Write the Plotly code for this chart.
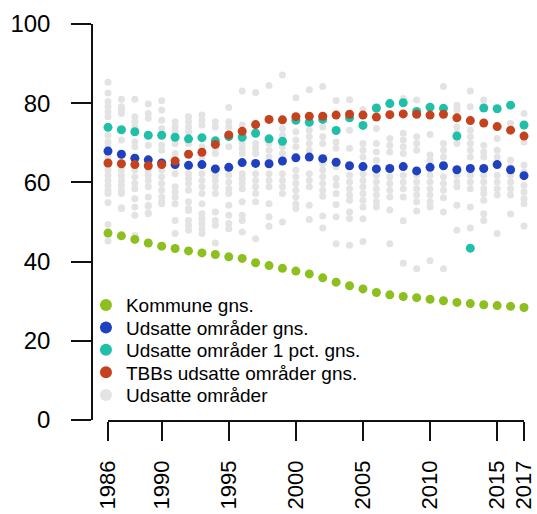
import plotly.graph_objects as go

years = list(range(1986, 2018))

kommune_gns = [47.2, 46.5, 45.6, 44.7, 43.9, 43.3, 42.7, 42.2, 41.8, 41.2, 40.8, 39.7,
               39.0, 38.3, 37.6, 36.9, 35.9, 34.8, 33.9, 33.1, 32.2, 31.6, 31.2, 30.9,
               30.5, 30.1, 29.7, 29.4, 29.1, 28.9, 28.7, 28.4]

udsatte_gns = [67.9, 67.1, 66.1, 65.7, 64.9, 64.5, 64.3, 64.5, 63.4, 63.8, 65.0, 64.8,
               64.7, 65.4, 66.2, 66.4, 66.0, 65.1, 64.2, 64.0, 63.4, 63.5, 64.0, 62.9,
               63.8, 64.2, 63.2, 63.5, 63.5, 64.5, 63.2, 61.7]

udsatte_1pct_gns = [73.9, 73.3, 72.8, 71.9, 71.9, 71.4, 71.0, 71.3, 70.5, 71.6, 71.4, 72.4,
                    71.0, 70.4, 75.7, 75.2, 75.9, 73.1, 76.3, 74.4, 78.8, 79.9, 80.1, 77.9,
                    79.0, 78.7, 71.7, 43.4, 78.8, 78.6, 79.5, 74.5]

tbb_gns = [64.9, 64.7, 64.5, 64.2, 64.5, 65.4, 67.1, 67.6, 69.6, 72.0, 72.9, 74.6,
           75.9, 75.8, 76.6, 76.7, 76.7, 77.0, 77.2, 77.0, 76.5, 77.1, 77.3, 77.2,
           77.0, 77.2, 76.3, 75.6, 75.0, 74.1, 73.2, 71.7]

# Individual areas per year (same order as years)
udsatte_omr = [
    [85.3, 82.6, 80.4, 79.1, 77.8, 76.6, 71.9, 70.2, 69.0, 66.4, 63.1, 61.8, 60.5, 59.3, 58.0, 57.2, 54.9, 49.4, 45.2],
    [81.0, 79.1, 78.3, 77.4, 70.7, 63.1, 61.8, 60.5, 59.3, 58.0, 57.2, 53.4, 53.6],
    [81.0, 76.6, 75.3, 74.0, 70.2, 69.0, 63.1, 61.4, 59.7, 58.4, 55.9, 53.8, 51.7, 46.6],
    [79.8, 77.4, 76.2, 69.4, 63.1, 61.8, 60.5, 58.9, 56.3, 54.0, 52.3, 54.2, 52.1],
    [80.6, 78.3, 75.7, 73.6, 69.4, 68.1, 63.1, 61.4, 59.7, 58.0, 56.3, 54.6, 55.1, 44.1],
    [75.3, 74.0, 72.8, 69.8, 67.3, 62.2, 58.9, 57.6, 56.3, 54.6, 50.4, 47.1],
    [76.6, 75.3, 74.0, 72.8, 69.8, 62.2, 61.0, 59.7, 58.0, 55.1, 53.4, 52.9, 50.4, 49.2, 47.9],
    [77.0, 75.7, 74.5, 69.0, 66.4, 62.2, 60.5, 58.9, 57.2, 54.6, 52.1, 50.9, 49.6, 48.3, 47.1],
    [75.3, 74.0, 68.6, 67.3, 61.8, 60.5, 58.9, 57.2, 52.5, 50.4, 49.2, 44.7],
    [78.9, 75.3, 74.0, 69.0, 61.8, 60.1, 58.4, 57.2, 54.2, 51.7, 49.6, 48.3],
    [83.1, 74.5, 69.8, 68.6, 67.3, 62.2, 61.0, 59.7, 58.4, 55.1, 51.7, 50.4, 47.5],
    [82.7, 72.8, 69.8, 68.6, 67.3, 62.2, 60.5, 58.9, 57.2, 55.1, 45.8],
    [84.5, 69.8, 68.1, 66.4, 62.2, 60.5, 58.9, 54.6, 51.3, 48.9],
    [87.1, 73.6, 71.9, 69.0, 67.3, 62.2, 60.5, 58.9, 57.2, 50.0],
    [81.4, 72.8, 70.7, 69.0, 63.1, 61.4, 59.7, 58.0, 56.3, 54.6, 53.4],
    [83.4, 73.2, 71.5, 69.8, 68.1, 62.2, 60.5, 58.9, 54.2, 50.6],
    [84.2, 74.0, 71.5, 69.8, 64.8, 63.1, 61.4, 59.7, 58.0, 56.5, 51.5, 48.5],
    [80.7, 70.2, 68.6, 63.9, 61.0, 59.3, 57.2, 54.4, 51.3, 44.5],
    [80.9, 73.2, 68.6, 61.8, 60.1, 58.4, 56.8, 55.5, 52.5, 50.9, 44.1],
    [78.4, 69.8, 68.1, 66.4, 62.2, 60.5, 58.9, 57.2, 55.5, 53.8, 50.8, 45.1],
    [73.6, 69.8, 67.7, 65.6, 61.8, 60.1, 58.4, 56.8, 55.1, 53.8],
    [71.1, 69.4, 67.7, 61.4, 59.7, 58.0, 56.3, 53.0, 44.5],
    [81.2, 72.4, 70.7, 69.0, 67.3, 61.8, 60.1, 58.4, 56.3, 50.3, 39.6],
    [80.8, 71.5, 69.8, 68.1, 61.8, 60.1, 58.4, 56.8, 55.1, 52.8, 38.2],
    [72.1, 66.9, 65.6, 61.8, 60.1, 58.4, 56.8, 55.1, 53.8, 40.2],
    [84.2, 69.8, 68.1, 66.4, 61.4, 59.7, 58.0, 56.1, 52.5, 38.2],
    [79.5, 78.3, 74.0, 72.4, 69.8, 61.8, 60.1, 58.9, 54.2, 47.9],
    [83.1, 79.1, 73.2, 71.5, 69.8, 68.1, 66.4, 61.8, 60.1, 58.4, 53.8, 48.5],
    [80.8, 69.4, 67.7, 66.4, 61.8, 60.1, 58.4, 57.2, 55.5, 52.1, 50.4],
    [71.1, 68.1, 66.4, 61.8, 60.1, 58.4, 56.8, 47.1],
    [74.9, 65.6, 63.9, 61.8, 60.1, 58.4, 56.8, 52.0],
    [77.4, 70.2, 64.4, 62.7, 59.3, 57.6, 55.9, 54.6, 49.0],
]

x_ticks = [1986, 1990, 1995, 2000, 2005, 2010, 2015, 2017]
y_ticks = [0, 20, 40, 60, 80, 100]

labels = ["Kommune gns.", "Udsatte områder gns.", "Udsatte områder 1 pct. gns.",
          "TBBs udsatte områder gns.", "Udsatte områder"]
colors = ["#8cc01e", "#1f40bf", "#20c0a8", "#c4421e", "#e3e3e3"]

grey_x = [yr for yr, vals in zip(years, udsatte_omr) for _ in vals]
grey_y = [v for vals in udsatte_omr for v in vals]

legend_names = ["legend", "legend2", "legend3", "legend4", "legend5"]
legend_rows_y = [0.290, 0.2335, 0.177, 0.120, 0.063]

fig = go.Figure()
fig.add_trace(go.Scatter(x=grey_x, y=grey_y, mode="markers", name=labels[4],
                         marker=dict(color=colors[4], size=7), cliponaxis=False,
                         legend=legend_names[4]))
series = [kommune_gns, udsatte_gns, udsatte_1pct_gns, tbb_gns]
for i, s in enumerate(series):
    fig.add_trace(go.Scatter(x=years, y=s, mode="markers", name=labels[i],
                             marker=dict(color=colors[i], size=9), cliponaxis=False,
                             legend=legend_names[i]))

legend_style = dict(x=-0.014, xanchor="left", yanchor="middle",
                    bgcolor="rgba(0,0,0,0)", font=dict(size=19),
                    itemsizing="constant")
legends = {}
for name, ypos in zip(legend_names, legend_rows_y):
    legends[name] = dict(legend_style, y=ypos)

fig.update_layout(
    width=537, height=514,
    margin=dict(l=92, r=13, t=24, b=94),
    plot_bgcolor="white", paper_bgcolor="white",
    font=dict(family="Liberation Sans, Arial, sans-serif", color="#000000"),
    showlegend=True,
    xaxis=dict(domain=[16 / 432, 1], range=[1986, 2017], showgrid=False, zeroline=False,
               automargin=False,
               showline=True, linecolor="#111111", linewidth=1.5,
               ticks="outside", ticklen=19, tickwidth=1.5, tickcolor="#111111",
               tickvals=x_ticks, ticktext=[str(t) for t in x_ticks],
               tickangle=-90, tickfont=dict(size=22), ticklabelstandoff=11),
    yaxis=dict(anchor="free", position=0, range=[0, 100], showgrid=False, zeroline=False,
               automargin=False,
               showline=True, linecolor="#111111", linewidth=1.5,
               ticks="outside", ticklen=20, tickwidth=1.5, tickcolor="#111111",
               tickvals=y_ticks, tickfont=dict(size=24), ticklabelstandoff=16),
    **legends,
)

fig.write_html("out.html", config={"displayModeBar": False},
               post_script="document.body.style.margin='0';document.body.style.padding='0';")
